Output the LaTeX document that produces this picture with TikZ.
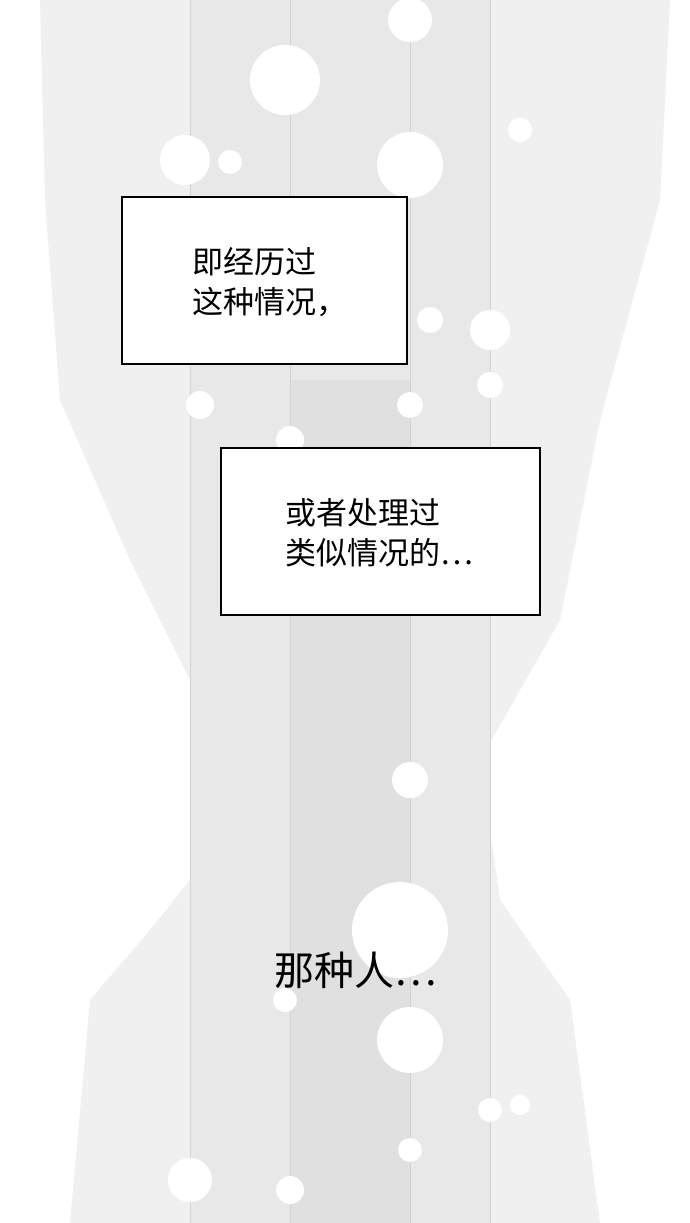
\documentclass[tikz,border=0pt]{standalone}
\usepackage{fontspec}
\newfontfamily\cjk{Noto Sans CJK SC}
\begin{document}
\begin{tikzpicture}[x=1pt,y=1pt,yscale=-1,xscale=1,
  box/.style={draw=black,line width=1.2pt,fill=white},
  bubble/.style={fill=white,draw=none},
  stripe/.style={draw=gray!35,line width=1pt}]
\useasboundingbox (0,0) rectangle (690,1223);
\fill[white] (0,0) rectangle (690,1223);

%Shape: halftone background
\fill[gray!12] (40,0) -- (670,0) -- (660,200) -- (600,420) -- (560,620) -- (480,760) -- (500,900) -- (570,1000) -- (600,1223) -- (70,1223) -- (90,1000) -- (150,930) -- (230,830) -- (200,700) -- (130,560) -- (60,400) -- (45,200) -- cycle;
\fill[gray!18] (190,0) rectangle (490,1223);
\fill[gray!24] (290,380) rectangle (410,1223);

%Straight Lines: vertical stripes
\foreach \x in {190,290,410,490} \draw[stripe] (\x,0) -- (\x,1223);

%Shape: white circles
\foreach \cx/\cy/\r in {285/80/35,410/20/22,520/130/12,185/160/25,230/162/12,410/165/33,430/320/13,490/330/20,490/385/13,410/405/13,200/405/14,290/440/14,410/780/18,400/930/48,410/1040/33,285/1000/12,490/1110/12,520/1105/10,190/1180/22,290/1190/14,410/1150/12}
  \fill[bubble] (\cx,\cy) circle (\r);

%Shape: boxes
\draw[box] (122,197) rectangle (407,364);
\draw[box] (221,448) rectangle (540,615);

% Text Node
\node[align=left,font=\cjk\fontsize{31}{40}\selectfont] (first) at (270,282) {即经历过\\这种情况，};
% Text Node
\node[align=left,font=\cjk\fontsize{31}{40}\selectfont] (second) at (379,533) {或者处理过\\类似情况的⋯};
% Text Node
\node[font=\cjk\fontsize{40}{44}\selectfont] (third) at (356,970) {那种人⋯};
\end{tikzpicture}
\end{document}
